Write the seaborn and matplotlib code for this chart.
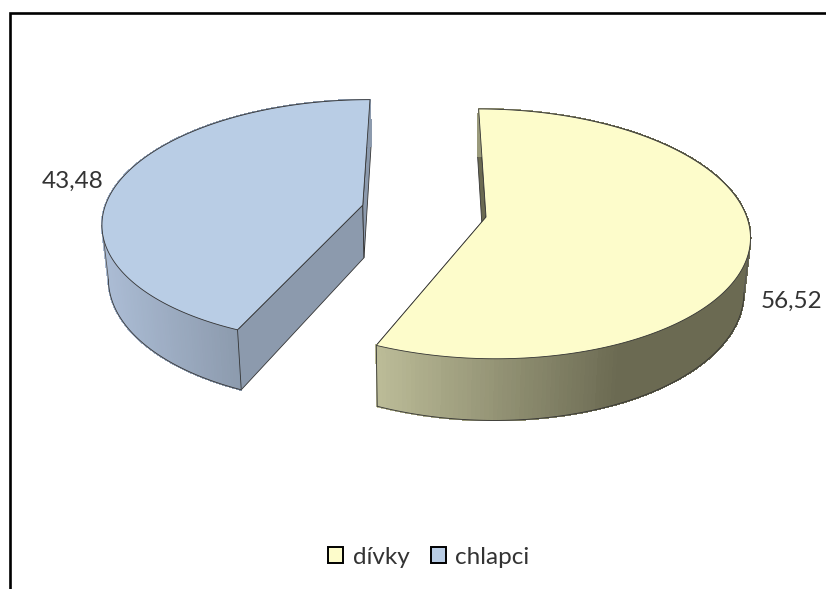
import numpy as np
import matplotlib
matplotlib.use("Agg")
import matplotlib.pyplot as plt
from matplotlib.collections import PolyCollection
from matplotlib.patches import Patch
import seaborn as sns

# data
categories = ["dívky", "chlapci"]
values = [56.52, 43.48]
top_colors = ["#fdfccb", "#b9cde5"]
wall_light = ["#bbbb97", "#aabbd3"]
wall_dark = ["#6b6a52", "#8c9aad"]
label_xy = [(792, 301), (73, 181)]

sns.set_theme(style="white", font="Lato")
plt.rcParams["font.family"] = ["Lato", "DejaVu Sans"]

# projection of the tilted pie onto the picture
CX, CY = 424, 211
A, B, K = 259, 121, 0.134
EXPLODE = 0.243
DEPTH = 53
SHRINK = 0.98
EDGE = "#333333"
EDGE_W = 0.6


def project(x, y, bottom=False):
    d = 1 + K * y
    sx = CX + A * x / d
    sy = CY - B * y / d
    if bottom:
        sx = CX + (sx - CX) * SHRINK
        sy = sy + DEPTH / d
    return sx, sy


def slice_geom(start, end, n=240):
    # angles clockwise from the top, slice pushed out along its middle
    mid = (start + end) / 2
    ox, oy = EXPLODE * np.sin(mid), EXPLODE * np.cos(mid)
    th = np.linspace(start, end, n)
    return ox, oy, ox + np.sin(th), oy + np.cos(th)


def wall_quad(x0, y0, x1, y1):
    ax0, ay0 = project(x0, y0)
    ax1, ay1 = project(x1, y1)
    bx1, by1 = project(x1, y1, True)
    bx0, by0 = project(x0, y0, True)
    return [(ax0, ay0), (ax1, ay1), (bx1, by1), (bx0, by0)]


fig = plt.figure(figsize=(8.26, 5.89), dpi=100)
ax = fig.add_axes([0, 0, 1, 1])
ax.set_xlim(0, 826)
ax.set_ylim(589, 0)
ax.axis("off")

# frame, only left and top are in the picture
ax.plot([9.7, 9.7, 826], [589, 12.5, 12.5], color="black", lw=1.9,
        solid_joinstyle="miter", zorder=1)

fracs = np.array(values) / sum(values)
edges = np.concatenate([[0], np.cumsum(fracs)]) * 2 * np.pi

for i in range(len(values)):
    ox, oy, xs, ys = slice_geom(edges[i], edges[i + 1])
    top_x, top_y = project(xs, ys)
    bot_x, bot_y = project(xs, ys, True)

    # flat cut faces
    for xe, ye in [(xs[0], ys[0]), (xs[-1], ys[-1])]:
        ax.fill(*zip(*wall_quad(ox, oy, xe, ye)), facecolor=wall_dark[i],
                edgecolor=EDGE, lw=EDGE_W, zorder=2)

    # rim, shaded along x
    x_lo, x_hi = (379, 620) if i == 0 else (107, 239)
    pal = sns.blend_palette([wall_light[i], wall_dark[i]], n_colors=64)
    quads, shades = [], []
    for j in range(len(xs) - 1):
        quads.append([(top_x[j], top_y[j]), (top_x[j + 1], top_y[j + 1]),
                      (bot_x[j + 1], bot_y[j + 1]), (bot_x[j], bot_y[j])])
        t = np.clip((top_x[j] - x_lo) / (x_hi - x_lo), 0, 1)
        shades.append(pal[int(t * 63)])
    ax.add_collection(PolyCollection(quads, facecolors=shades, edgecolors=shades,
                                     linewidths=0.8, antialiased=False, zorder=3))
    # outline only from the silhouette point round to the front vertex
    k = int(np.argmax(top_x)) if i == 0 else int(np.argmin(top_x))
    if i == 0:
        ax.plot(bot_x[k:], bot_y[k:], color=EDGE, lw=EDGE_W, zorder=4)
    else:
        ax.plot(bot_x[:k + 1], bot_y[:k + 1], color=EDGE, lw=EDGE_W, zorder=4)
    ax.plot([top_x[k], bot_x[k]], [top_y[k], bot_y[k]], color="#555555", lw=EDGE_W, zorder=4)
    # vertical edge at the front vertex
    front = -1 if i == 0 else 0
    ax.plot([top_x[front], bot_x[front]], [top_y[front], bot_y[front]],
            color=EDGE, lw=EDGE_W, zorder=4)

    # top face
    ax0, ay0 = project(ox, oy)
    ax.fill(np.r_[ax0, top_x], np.r_[ay0, top_y], facecolor=top_colors[i],
            edgecolor=EDGE, lw=EDGE_W, joinstyle="miter", zorder=5)

    ax.text(label_xy[i][0], label_xy[i][1], f"{values[i]:.2f}".replace(".", ","),
            ha="center", va="center", fontsize=17.5, color="#333333", zorder=6)

handles = [Patch(facecolor=c, edgecolor="black", lw=1.4) for c in top_colors]
ax.legend(handles, categories, loc="center", bbox_to_anchor=(429 / 826, 1 - 557 / 589),
          ncol=2, frameon=False, fontsize=17.5, labelcolor="#333333",
          handlelength=0.62, handleheight=0.62, handletextpad=0.4, columnspacing=0.85)

fig.savefig("out.png", dpi=100)
